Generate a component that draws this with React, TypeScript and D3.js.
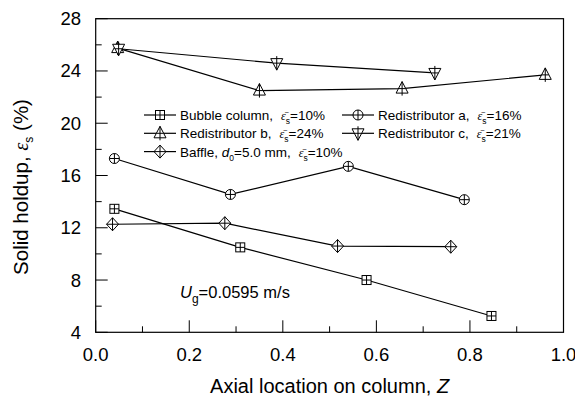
import React from "react";
import * as d3 from "d3";

// axial location Z and solid holdup (%) for each configuration
const bubbleZ = [0.04, 0.309, 0.579, 0.846];
const bubbleY = [13.45, 10.5, 8.0, 5.25];
const redistAZ = [0.04, 0.288, 0.54, 0.788];
const redistAY = [17.3, 14.55, 16.7, 14.15];
const redistBZ = [0.047, 0.35, 0.655, 0.961];
const redistBY = [25.75, 22.5, 22.65, 23.7];
const redistCZ = [0.049, 0.387, 0.725];
const redistCY = [25.7, 24.6, 23.85];
const baffleZ = [0.036, 0.276, 0.517, 0.759];
const baffleY = [12.27, 12.35, 10.6, 10.55];

const xTicks = [0, 0.2, 0.4, 0.6, 0.8, 1.0];
const yTicks = [4, 8, 12, 16, 20, 24, 28];
const xMinor = [0.1, 0.3, 0.5, 0.7, 0.9];
const yMinor = [6, 10, 14, 18, 22, 26];

type Kind = "square" | "circle" | "up" | "down" | "diamond";

const series: { name: string; kind: Kind; z: number[]; y: number[] }[] = [
  { name: "bubble", kind: "square", z: bubbleZ, y: bubbleY },
  { name: "redistA", kind: "circle", z: redistAZ, y: redistAY },
  { name: "redistB", kind: "up", z: redistBZ, y: redistBY },
  { name: "redistC", kind: "down", z: redistCZ, y: redistCY },
  { name: "baffle", kind: "diamond", z: baffleZ, y: baffleY },
];

const W = 575;
const H = 401;
const margin = { left: 95.7, right: 11.5, top: 18.7, bottom: 68.7 };
const serif = "'Times New Roman', 'Liberation Serif', serif";

const Marker = ({ kind, cx, cy }: { kind: Kind; cx: number; cy: number }) => {
  const st = { fill: "#fff", stroke: "#000", strokeWidth: 1 };
  let shape: React.ReactNode = null;
  let cross = { h: 4.5, v: 4.5 };
  if (kind === "square") {
    shape = <rect x={-4.5} y={-4.5} width={9} height={9} {...st} />;
  } else if (kind === "circle") {
    shape = <circle r={5} {...st} />;
    cross = { h: 5, v: 5 };
  } else if (kind === "up") {
    shape = <path d="M0,-7L6,4.5L-6,4.5Z" {...st} />;
    cross = { h: 3.5, v: 7 };
  } else if (kind === "down") {
    shape = <path d="M0,7L6,-4.5L-6,-4.5Z" {...st} />;
    cross = { h: 3.5, v: 7 };
  } else {
    shape = <path d="M0,-6.5L6,0L0,6.5L-6,0Z" {...st} />;
    cross = { h: 6, v: 6.5 };
  }
  return (
    <g transform={`translate(${cx},${cy})`}>
      {shape}
      <line x1={-cross.h} x2={cross.h} y1={0} y2={0} stroke="#000" strokeWidth={1} />
      <line x1={0} x2={0} y1={-cross.v} y2={cross.v} stroke="#000" strokeWidth={1} />
    </g>
  );
};

const EpsBar = ({ value }: { value: string }) => (
  <>
    <tspan dx={8} fontFamily={serif} fontStyle="italic" fontSize={12}>
      {"ε\u0304"}
    </tspan>
    <tspan dy={4} fontSize={8.5}>s</tspan>
    <tspan dy={-4}>{`=${value}`}</tspan>
  </>
);

export default function App() {
  const x = d3.scaleLinear().domain([0, 1]).range([margin.left, W - margin.right]);
  const y = d3.scaleLinear().domain([4, 28]).range([H - margin.bottom, margin.top]);
  const line = d3
    .line<[number, number]>()
    .x((d) => x(d[0]))
    .y((d) => y(d[1]));

  const x0 = x(0);
  const x1 = x(1);
  const y0 = y(4);
  const y1 = y(28);
  const font = "Arial, 'Liberation Sans', sans-serif";

  const legendRows = [
    { kind: "square" as Kind, col: 0, row: 0 },
    { kind: "circle" as Kind, col: 1, row: 0 },
    { kind: "up" as Kind, col: 0, row: 1 },
    { kind: "down" as Kind, col: 1, row: 1 },
    { kind: "diamond" as Kind, col: 0, row: 2 },
  ];
  const legendText: Record<Kind, React.ReactNode> = {
    square: (
      <>
        <tspan>Bubble column,</tspan>
        <EpsBar value="10%" />
      </>
    ),
    circle: (
      <>
        <tspan>Redistributor a,</tspan>
        <EpsBar value="16%" />
      </>
    ),
    up: (
      <>
        <tspan>Redistributor b,</tspan>
        <EpsBar value="24%" />
      </>
    ),
    down: (
      <>
        <tspan>Redistributor c,</tspan>
        <EpsBar value="21%" />
      </>
    ),
    diamond: (
      <>
        <tspan>Baffle, </tspan>
        <tspan fontStyle="italic">d</tspan>
        <tspan dy={4} fontSize={8.5}>0</tspan>
        <tspan dy={-4}>=5.0 mm,</tspan>
        <EpsBar value="10%" />
      </>
    ),
  };
  const colX = [144, 342];
  const rowY = [115, 133.3, 151.6];

  return (
    <div style={{ position: "absolute", left: 0, top: 0 }}>
      <svg width={W} height={H} style={{ display: "block", background: "#fff" }} fontFamily={font}>
        {/* frame */}
        <rect x={x0} y={y1} width={x1 - x0} height={y0 - y1} fill="none" stroke="#000" strokeWidth={1.2} />

        {/* x ticks */}
        {xTicks.map((t) => (
          <g key={"xt" + t}>
            <line x1={x(t)} x2={x(t)} y1={y0} y2={y0 - 12} stroke="#000" strokeWidth={1} />
            <text x={x(t)} y={361} textAnchor="middle" fontSize={18.5}>
              {t.toFixed(1)}
            </text>
          </g>
        ))}
        {xMinor.map((t) => (
          <line key={"xm" + t} x1={x(t)} x2={x(t)} y1={y0} y2={y0 - 6} stroke="#000" strokeWidth={1} />
        ))}

        {/* y ticks */}
        {yTicks.map((t) => (
          <g key={"yt" + t}>
            <line x1={x0} x2={x0 + 12} y1={y(t)} y2={y(t)} stroke="#000" strokeWidth={1} />
            <text x={81} y={y(t) + 6.5} textAnchor="end" fontSize={18.5}>
              {t}
            </text>
          </g>
        ))}
        {yMinor.map((t) => (
          <line key={"ym" + t} x1={x0} x2={x0 + 6} y1={y(t)} y2={y(t)} stroke="#000" strokeWidth={1} />
        ))}

        {/* series */}
        {series.map((s) => (
          <g key={s.name}>
            <path
              d={line(s.z.map((z, i) => [z, s.y[i]] as [number, number])) || ""}
              fill="none"
              stroke="#000"
              strokeWidth={1.2}
            />
            {s.z.map((z, i) => (
              <Marker key={i} kind={s.kind} cx={x(z)} cy={y(s.y[i])} />
            ))}
          </g>
        ))}

        {/* legend */}
        {legendRows.map((r) => (
          <g key={"lg" + r.kind}>
            <line
              x1={colX[r.col]}
              x2={colX[r.col] + 32}
              y1={rowY[r.row]}
              y2={rowY[r.row]}
              stroke="#000"
              strokeWidth={1.2}
            />
            <Marker kind={r.kind} cx={colX[r.col] + 16} cy={rowY[r.row]} />
            <text x={colX[r.col] + 36} y={rowY[r.row] + 5} fontSize={13.5}>
              {legendText[r.kind]}
            </text>
          </g>
        ))}

        {/* annotation */}
        <text x={180} y={298} fontSize={16.5}>
          <tspan fontStyle="italic">U</tspan>
          <tspan dy={5} fontSize={12}>g</tspan>
          <tspan dy={-5}>=0.0595 m/s</tspan>
        </text>

        {/* axis titles */}
        <text x={(x0 + x1) / 2} y={393} textAnchor="middle" fontSize={20}>
          Axial location on column, <tspan fontStyle="italic">Z</tspan>
        </text>
        <text transform={`translate(28,187) rotate(-90)`} textAnchor="middle" fontSize={20.5}>
          <tspan>Solid holdup, </tspan>
          <tspan fontFamily={serif} fontStyle="italic">ε</tspan>
          <tspan dy={5} fontSize={12}>s</tspan>
          <tspan dy={-5}> (%)</tspan>
        </text>
      </svg>
    </div>
  );
}
